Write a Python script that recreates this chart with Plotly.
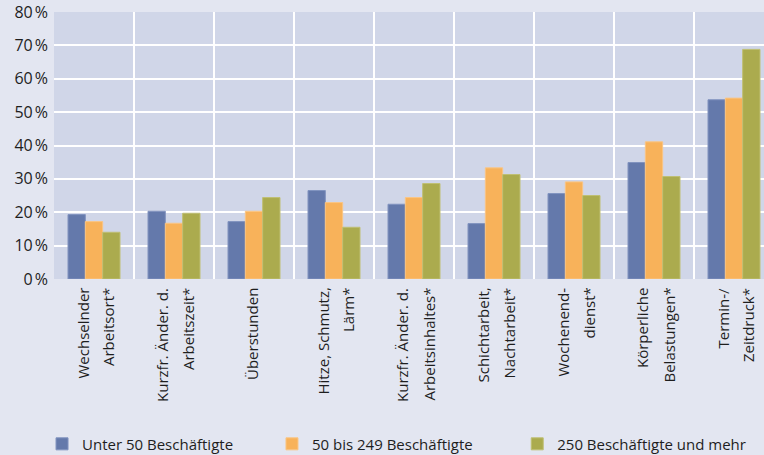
"""Belastungen nach Betriebsgröße - grouped bar chart."""

import plotly.graph_objects as go

# Category labels, one list entry per label line
categories = [
    ["Wechselnder", "Arbeitsort*"],
    ["Kurzfr. Änder. d.", "Arbeitszeit*"],
    ["Überstunden"],
    ["Hitze, Schmutz,", "Lärm*"],
    ["Kurzfr. Änder. d.", "Arbeitsinhaltes*"],
    ["Schichtarbeit,", "Nachtarbeit*"],
    ["Wochenend-", "dienst*"],
    ["Körperliche", "Belastungen*"],
    ["Termin-/", "Zeitdruck*"],
]

# Shares in percent
unter_50 = [19.3, 20.3, 17.2, 26.5, 22.4, 16.6, 25.6, 34.9, 53.7]
bis_249 = [17.2, 16.7, 20.3, 22.9, 24.4, 33.3, 29.1, 41.1, 54.2]
ab_250 = [14.0, 19.7, 24.4, 15.5, 28.6, 31.3, 25.0, 30.7, 68.8]

series_names = ["Unter 50 Beschäftigte", "50 bis 249 Beschäftigte", "250 Beschäftigte und mehr"]
series_values = [unter_50, bis_249, ab_250]

y_ticks = [0, 10, 20, 30, 40, 50, 60, 70, 80]
y_ticktext = [f"{v}\u202f%" for v in y_ticks]

colors = ["#6479ab", "#f8b25a", "#abab4e"]
edges = ["#8193bf", "#fac584", "#bfbf72"]
legend_ids = ["legend", "legend2", "legend3"]
legend_x = [0.055, 0.356, 0.677]

FONT = "'Open Sans', sans-serif"
TEXT = "#1e1e1e"

fig = go.Figure()

x_pos = list(range(len(categories)))
for name, values, color, edge, lg in zip(series_names, series_values, colors, edges, legend_ids):
    fig.add_trace(
        go.Bar(
            x=x_pos,
            y=values,
            name=name,
            legend=lg,
            marker=dict(color=color, line=dict(color=edge, width=1)),
        )
    )

# vertical separators between categories
shapes = []
for i in range(len(categories) - 1):
    shapes.append(
        dict(
            type="line",
            xref="x",
            yref="paper",
            x0=i + 0.5,
            x1=i + 0.5,
            y0=0,
            y1=1,
            line=dict(color="white", width=2),
            layer="below",
        )
    )

# rotated category labels, each line placed separately
annotations = []
for i, lines in enumerate(categories):
    if len(lines) == 1:
        shifts = [-2]
    else:
        shifts = [-12, 14]
    for text, dx in zip(lines, shifts):
        annotations.append(
            dict(
                x=i,
                y=0,
                xref="x",
                yref="paper",
                text=text,
                textangle=-90,
                showarrow=False,
                xanchor="center",
                yanchor="top",
                xshift=dx,
                yshift=-7,
                font=dict(size=15, color=TEXT),
            )
        )

legends = {}
for lg, lx in zip(legend_ids, legend_x):
    legends[lg] = dict(
        orientation="h",
        xref="container",
        x=lx,
        xanchor="left",
        yref="container",
        y=0.024,
        yanchor="middle",
        font=dict(size=15, color=TEXT),
        bgcolor="rgba(0,0,0,0)",
    )

fig.update_layout(
    width=764,
    height=455,
    paper_bgcolor="#e3e6f1",
    plot_bgcolor="#d0d6e8",
    margin=dict(l=54, r=0, t=12, b=176),
    barmode="group",
    bargap=0.35,
    bargroupgap=0,
    font=dict(family=FONT, size=15, color=TEXT),
    shapes=shapes,
    annotations=annotations,
    showlegend=True,
    **legends,
)

fig.update_xaxes(
    range=[-0.5, 8.375],
    showticklabels=False,
    showgrid=False,
    zeroline=False,
    ticks="",
)

fig.update_yaxes(
    range=[0, 80],
    tickvals=y_ticks,
    ticktext=y_ticktext,
    showgrid=True,
    gridcolor="white",
    gridwidth=2,
    zeroline=False,
    ticklabelstandoff=5,
    tickfont=dict(size=16),
)

# page body margin would push the fixed-size figure off the window
fig.write_html(
    "out.html",
    config={"displayModeBar": False},
    post_script="document.body.style.margin='0';document.body.style.overflow='hidden';",
)
